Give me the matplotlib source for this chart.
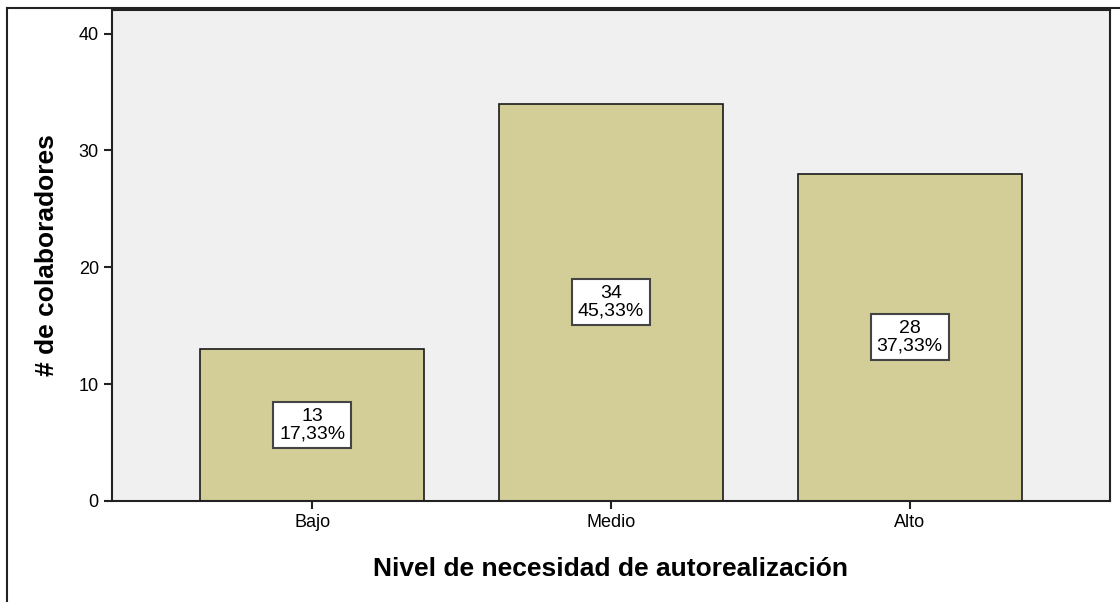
import matplotlib.pyplot as plt
import matplotlib as mpl
from matplotlib.lines import Line2D

mpl.rcParams.update({
    'font.family': ['Liberation Sans', 'DejaVu Sans'],
    'font.size': 13,
})

# datos
niveles = ["Bajo", "Medio", "Alto"]
conteos = [13, 34, 28]
porcentajes = ["17,33%", "45,33%", "37,33%"]

fig = plt.figure(figsize=(11.2, 6.02), dpi=100)
ax = fig.add_axes([0.1, 0.168, 0.891, 0.815])
ax.set_facecolor('#f0f0f0')

x = range(len(niveles))
ax.bar(x, conteos, width=0.75, color='#d3ce97', edgecolor='#1a1a1a', linewidth=1.2, zorder=2)

for i, (c, p) in enumerate(zip(conteos, porcentajes)):
    ax.text(i, c / 2, f"{c}\n{p}", ha='center', va='center', fontsize=14,
            linespacing=1.05, zorder=3,
            bbox=dict(boxstyle='square,pad=0.3', facecolor='white',
                      edgecolor='#444444', linewidth=1.5))

ax.set_xlim(-0.67, 2.67)
ax.set_ylim(0, 42)
ax.set_yticks([0, 10, 20, 30, 40])
ax.set_xticks(list(x))
ax.set_xticklabels(niveles)
ax.tick_params(axis='both', direction='out', length=6, width=1.5, color='#222222', labelsize=13)

for s in ax.spines.values():
    s.set_linewidth(1.5)
    s.set_color('#222222')

ax.set_ylabel('# de colaboradores', fontsize=19, fontweight='bold', labelpad=14)
ax.set_xlabel('Nivel de necesidad de autorealización', fontsize=19, fontweight='bold', labelpad=19)

# borde exterior (izquierda y arriba)
fig.add_artist(Line2D([7 / 1120, 7 / 1120], [0, 1 - 8 / 602], transform=fig.transFigure, color='#222222', linewidth=1.5))
fig.add_artist(Line2D([7 / 1120, 1], [1 - 8 / 602, 1 - 8 / 602], transform=fig.transFigure, color='#222222', linewidth=1.5))

fig.savefig('out.png', dpi=100)
